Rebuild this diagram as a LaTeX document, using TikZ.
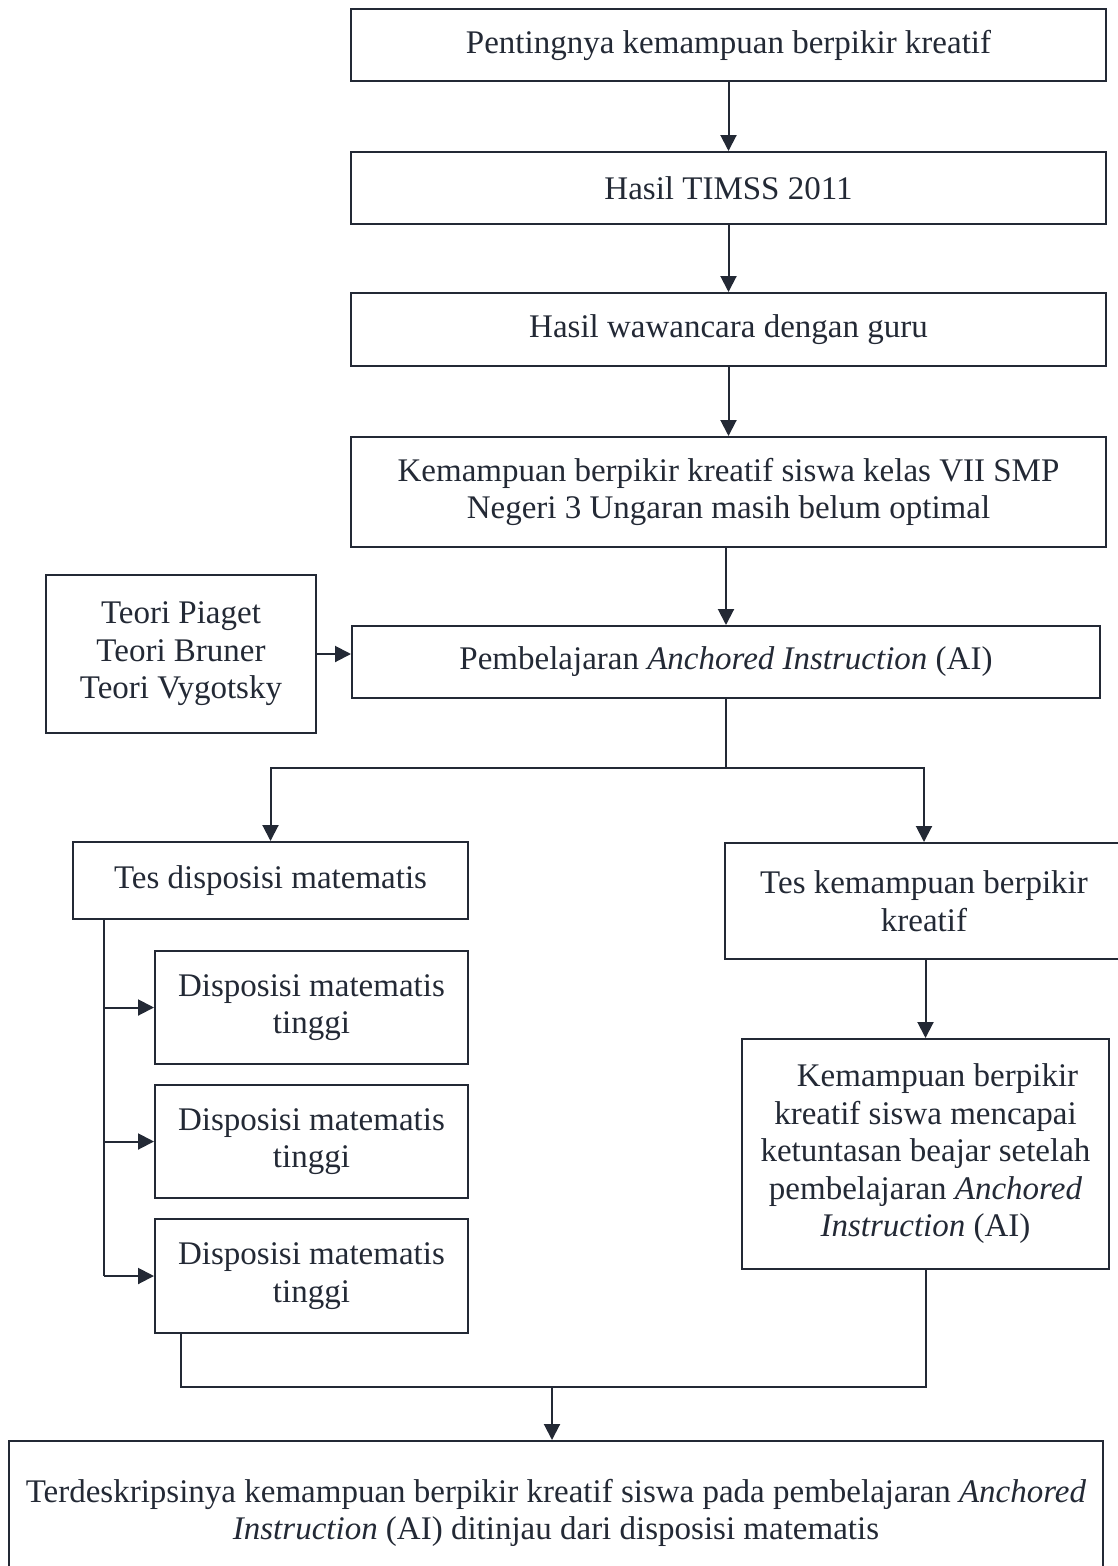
\documentclass[tikz,border=0pt]{standalone}
\usepackage{fontspec}
\setmainfont{Liberation Serif}
\usetikzlibrary{arrows.meta}
\definecolor{ink}{HTML}{232935}
\tikzset{
  box/.style = {draw, rectangle, align=center, inner sep=0pt,
                font=\fontsize{33}{37.5}\selectfont},
}
\begin{document}
\begin{tikzpicture}[x = 1pt, y = -1pt, color = ink, line width = 2pt,
                    >={Triangle[length=16pt, width=16pt]}]
				\useasboundingbox (0, 0) rectangle (1118, 1566);
				\clip (0, 0) rectangle (1118, 1566);
				
				% main column
				\node[box, minimum width = 755pt, minimum height = 72pt] (penting) at (728.5, 45) {Pentingnya kemampuan berpikir kreatif};
				\node[box, minimum width = 755pt, minimum height = 72pt] (timss) at (728.5, 188) {Hasil TIMSS 2011};
				\node[box, minimum width = 755pt, minimum height = 73pt] (wawancara) at (728.5, 329.5) {Hasil wawancara dengan guru};
				\node[box, minimum width = 755pt, minimum height = 110pt] (kondisi) at (728.5, 492) {Kemampuan berpikir kreatif siswa kelas VII SMP\\ Negeri 3 Ungaran masih belum optimal};
				\node[box, minimum width = 748pt, minimum height = 72pt] (ai) at (726, 662) {Pembelajaran \textit{Anchored Instruction} (AI)};
				\node[box, minimum width = 270pt, minimum height = 158pt] (teori) at (181, 654) {Teori Piaget\\ Teori Bruner\\ Teori Vygotsky};
				
				% two branches
				\node[box, minimum width = 395pt, minimum height = 77pt] (tesdisp) at (270.5, 880.5) {Tes disposisi matematis};
				\node[box, minimum width = 398pt, minimum height = 116pt] (teskreatif) at (924, 901) {Tes kemampuan berpikir\\ kreatif};
				\node[box, minimum width = 313pt, minimum height = 113pt] (disp1) at (311.5, 1007.5) {Disposisi matematis\\ tinggi};
				\node[box, minimum width = 313pt, minimum height = 113pt] (disp2) at (311.5, 1141.5) {Disposisi matematis\\ tinggi};
				\node[box, minimum width = 313pt, minimum height = 114pt] (disp3) at (311.5, 1276) {Disposisi matematis\\ tinggi};
				\node[box, minimum width = 367pt, minimum height = 230pt] (tuntas) at (925.5, 1154) {\hspace*{24pt}Kemampuan berpikir\\ kreatif siswa mencapai\\ ketuntasan beajar setelah\\ pembelajaran \textit{Anchored}\\ \textit{Instruction} (AI)};
				\node[box, minimum width = 1094pt, minimum height = 144pt] (hasil) at (556, 1513) {Terdeskripsinya kemampuan berpikir kreatif siswa pada pembelajaran \textit{Anchored}\\ \textit{Instruction} (AI) ditinjau dari disposisi matematis};
				
				\coordinate (split) at (726, 768);
				\coordinate (bus) at (104, 1276);
				\coordinate (joinL) at (181, 1387);
				\coordinate (join) at (552, 1387);
				
				\draw[->] (penting) -- (timss);
				\draw[->] (timss) -- (wawancara);
				\draw[->] (wawancara) -- (kondisi);
				\draw[->] (kondisi.south -| ai.north) -- (ai.north);
				\draw[->] (teori.east) -- (teori.east -| ai.west);
				
				\draw (ai.south) -- (split);
				\draw[->] (split) -| (tesdisp.north);
				\draw[->] (split) -| (teskreatif.north);
				\draw[->] (teskreatif.south -| tuntas.north) -- (tuntas.north);
				
				\draw (tesdisp.south -| bus) -- (bus);
				\foreach \d in {disp1, disp2, disp3} {
					\draw[->] (\d.west -| bus) -- (\d.west);
				}
				
				\draw (disp3.south -| joinL) -- (joinL) -| (tuntas.south);
				\draw[->] (join) -- (join |- hasil.north);
			\end{tikzpicture}
\end{document}
